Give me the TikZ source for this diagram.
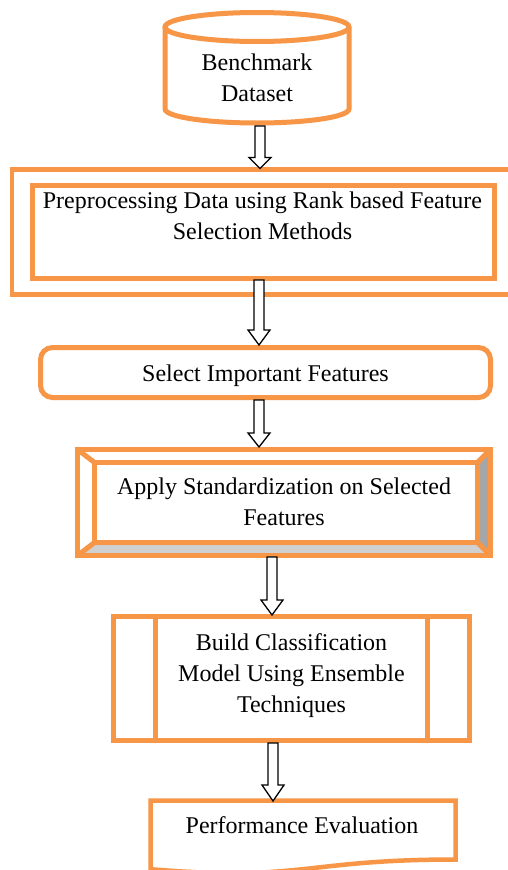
\documentclass[tikz,border=0pt]{standalone}
\usepackage{fontspec}
\setmainfont{Liberation Serif}
\usetikzlibrary{calc}
\definecolor{org}{HTML}{F79646}
\definecolor{bevR}{HTML}{A6A6A6}
\definecolor{bevB}{HTML}{D0D0D0}
\tikzset{
  ol/.style={draw=org, line width=5pt},
  boxshape/.style={ol, rectangle, inner sep=0pt},
  txt/.style={font=\fontsize{24}{31}\selectfont, align=center, inner sep=0pt},
  barrow/.style={draw=black, fill=white, line width=1.3pt, line join=miter},
}
\newcommand\blockarrow[3]{%
  \draw[barrow] let \p1=(#1), \p2=(#2) in
    (\x1-5pt,\y1) -- (\x1-5pt,\y2+#3) -- (\x1-11pt,\y2+#3) -- (\x1,\y2)
    -- (\x1+11pt,\y2+#3) -- (\x1+5pt,\y2+#3) -- (\x1+5pt,\y1) -- cycle;}
\begin{document}
\begin{tikzpicture}[x=1pt,y=-1pt]
\useasboundingbox (0,0) rectangle (508,870);
\clip (0,0) rectangle (508,870);
\fill[white] (0,0) rectangle (508,870);

% cylinder: Benchmark Dataset
\draw[ol] (257,27) ellipse [x radius=92pt, y radius=14.5pt];
\draw[ol] (165,27) -- (165,109) arc[start angle=180, end angle=360, x radius=92pt, y radius=14pt] -- (349,27);
\node[txt] (ds) at (257,77.5) {Benchmark\\Dataset};

% preprocessing box (double frame)
\node[boxshape, line width=4.5pt, minimum width=508pt, minimum height=125pt] (preout) at (266,232) {};
\node[boxshape, minimum width=462pt, minimum height=92.5pt] (prein) at (263.5,231.75) {};
\node[txt] (pretxt) at (262.5,215.3) {Preprocessing Data using Rank based Feature\\Selection Methods};

% select important features (rounded)
\node[boxshape, rounded corners=12pt, minimum width=450pt, minimum height=50pt] (sel) at (265.5,372.5) {};
\node[txt] (seltxt) at (265.5,375.9) {Select Important Features};

% bevel box
\fill[bevR] (490.5,449.5) -- (490.5,555.5) -- (477.5,542.5) -- (477.5,462.5) -- cycle;
\fill[bevB] (77.5,555.5) -- (490.5,555.5) -- (477.5,542.5) -- (94.5,542.5) -- cycle;
\begin{scope}
  \clip (77.5,449.5) rectangle (490.5,555.5);
  \draw[ol] (77.5,449.5) -- (94.5,462.5);
  \draw[ol] (490.5,449.5) -- (477.5,462.5);
  \draw[ol] (77.5,555.5) -- (94.5,542.5);
  \draw[ol] (490.5,555.5) -- (477.5,542.5);
\end{scope}
\node[boxshape, minimum width=413pt, minimum height=106pt] (stdout) at (284,502.5) {};
\node[boxshape, minimum width=383pt, minimum height=80pt] (stdin) at (286,502.5) {};
\node[txt] (stdtxt) at (284,501.3) {Apply Standardization on Selected\\Features};

% predefined process box
\node[boxshape, line width=4.5pt, minimum width=356pt, minimum height=124pt] (cls) at (291.5,678.5) {};
\draw[ol, line width=4.5pt] (155.5,616.5) -- (155.5,740.5);
\draw[ol, line width=4.5pt] (427.5,616.5) -- (427.5,740.5);
\node[txt] (clstxt) at (291.5,675.4) {Build Classification\\Model Using Ensemble\\Techniques};

% document shape
\draw[ol, line width=4.5pt] (150.5,800.5) -- (455.5,800.5) -- (455.5,859.5)
  .. controls (303,859.5) and (303,882) .. (150.5,869.2) -- cycle;
\node[txt] (perf) at (302,824.8) {Performance Evaluation};

% arrow end points
\coordinate (a1s) at (260,126);   \coordinate (a1e) at (260,168.5);
\coordinate (a2s) at (259,280);   \coordinate (a2e) at (259,345);
\coordinate (a3s) at (259,400);   \coordinate (a3e) at (259,447);
\coordinate (a4s) at (272,557);   \coordinate (a4e) at (272,615);
\coordinate (a5s) at (273,743);   \coordinate (a5e) at (273,801);
\blockarrow{a1s}{a1e}{11pt}
\blockarrow{a2s}{a2e}{15pt}
\blockarrow{a3s}{a3e}{14pt}
\blockarrow{a4s}{a4e}{15pt}
\blockarrow{a5s}{a5e}{16pt}
\end{tikzpicture}
\end{document}
